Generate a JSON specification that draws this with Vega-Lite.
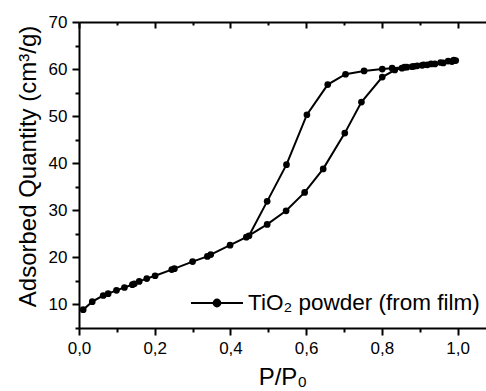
{
  "$schema": "https://vega.github.io/schema/vega-lite/v6.json",
  "autosize": {"type": "none"},
  "padding": {"left": 79, "top": 22, "right": 0, "bottom": 63},
  "width": 407,
  "height": 306,
  "background": "white",
  "view": {"stroke": null},
  "config": {
    "font": "Liberation Sans",
    "axis": {
      "domainColor": "black", "domainWidth": 2, "tickColor": "black", "tickWidth": 2,
      "labelFont": "Liberation Sans", "labelFontSize": 17, "labelColor": "black",
      "titleFont": "Liberation Sans", "titleFontSize": 24, "titleFontWeight": "normal", "titleColor": "black",
      "grid": false, "labelOverlap": false, "labelBound": false, "labelFlush": false
    },
    "legend": {"labelFont": "Liberation Sans", "labelFontSize": 22.5, "labelColor": "black", "labelLimit": 0}
  },
  "data": {"values": [
    {"i": 1, "p": 0.011, "q": 8.9},
    {"i": 2, "p": 0.035, "q": 10.6},
    {"i": 3, "p": 0.064, "q": 11.9},
    {"i": 4, "p": 0.077, "q": 12.3},
    {"i": 5, "p": 0.099, "q": 13.0},
    {"i": 6, "p": 0.120, "q": 13.6},
    {"i": 7, "p": 0.141, "q": 14.2},
    {"i": 8, "p": 0.146, "q": 14.4},
    {"i": 9, "p": 0.159, "q": 14.9},
    {"i": 10, "p": 0.179, "q": 15.5},
    {"i": 11, "p": 0.201, "q": 16.1},
    {"i": 12, "p": 0.245, "q": 17.4},
    {"i": 13, "p": 0.252, "q": 17.6},
    {"i": 14, "p": 0.300, "q": 19.1},
    {"i": 15, "p": 0.339, "q": 20.2},
    {"i": 16, "p": 0.348, "q": 20.6},
    {"i": 17, "p": 0.399, "q": 22.6},
    {"i": 18, "p": 0.442, "q": 24.3},
    {"i": 19, "p": 0.497, "q": 27.0},
    {"i": 20, "p": 0.547, "q": 29.9},
    {"i": 21, "p": 0.596, "q": 33.8},
    {"i": 22, "p": 0.645, "q": 38.8},
    {"i": 23, "p": 0.702, "q": 46.4},
    {"i": 24, "p": 0.746, "q": 53.0},
    {"i": 25, "p": 0.801, "q": 58.3},
    {"i": 26, "p": 0.834, "q": 59.8},
    {"i": 27, "p": 0.853, "q": 60.2},
    {"i": 28, "p": 0.866, "q": 60.4},
    {"i": 29, "p": 0.880, "q": 60.5},
    {"i": 30, "p": 0.893, "q": 60.7},
    {"i": 31, "p": 0.906, "q": 60.8},
    {"i": 32, "p": 0.920, "q": 60.9},
    {"i": 33, "p": 0.940, "q": 61.1},
    {"i": 34, "p": 0.962, "q": 61.3},
    {"i": 35, "p": 0.985, "q": 61.6},
    {"i": 36, "p": 0.995, "q": 61.8},
    {"i": 37, "p": 0.990, "q": 61.9},
    {"i": 38, "p": 0.975, "q": 61.7},
    {"i": 39, "p": 0.955, "q": 61.4},
    {"i": 40, "p": 0.930, "q": 61.1},
    {"i": 41, "p": 0.910, "q": 60.9},
    {"i": 42, "p": 0.885, "q": 60.6},
    {"i": 43, "p": 0.860, "q": 60.4},
    {"i": 44, "p": 0.827, "q": 60.2},
    {"i": 45, "p": 0.801, "q": 60.0},
    {"i": 46, "p": 0.753, "q": 59.6},
    {"i": 47, "p": 0.704, "q": 58.9},
    {"i": 48, "p": 0.657, "q": 56.7},
    {"i": 49, "p": 0.602, "q": 50.3},
    {"i": 50, "p": 0.548, "q": 39.7},
    {"i": 51, "p": 0.497, "q": 31.9},
    {"i": 52, "p": 0.449, "q": 24.6}
  ]},
  "layer": [
    {
      "mark": {"type": "line", "strokeWidth": 2, "point": {"filled": true, "size": 45}},
      "encoding": {
        "x": {
          "field": "p", "type": "quantitative",
          "scale": {"domain": [0, 1.075], "nice": false, "zero": false},
          "axis": {
            "orient": "bottom",
            "values": [0, 0.1, 0.2, 0.3, 0.4, 0.5, 0.6, 0.7, 0.8, 0.9, 1.0],
            "tickSize": {"condition": {"test": "round(datum.value*10)%2==0", "value": 7}, "value": 4},
            "labelExpr": "round(datum.value*10)%2==0 ? replace(format(datum.value,'.1f'),'.',',') : ''",
            "labelPadding": 5,
            "title": "P/P₀",
            "titleY": 56,
            "titleBaseline": "alphabetic"
          }
        },
        "y": {
          "field": "q", "type": "quantitative",
          "scale": {"domain": [5, 70], "nice": false, "zero": false},
          "axis": {
            "values": [5, 10, 15, 20, 25, 30, 35, 40, 45, 50, 55, 60, 65, 70],
            "tickSize": {"condition": {"test": "datum.value%10==0", "value": 7}, "value": 4},
            "labelExpr": "datum.value%10==0 ? datum.value : ''",
            "labelPadding": 5,
            "title": "Adsorbed Quantity (cm³/g)",
            "titleX": -44,
            "titleY": 144,
            "titleBaseline": "alphabetic"
          }
        },
        "order": {"field": "i", "type": "quantitative"},
        "color": {
          "datum": "TiO₂ powder (from film)",
          "type": "nominal",
          "scale": {"range": ["black"]},
          "legend": {
            "title": null,
            "orient": "none",
            "legendX": 111,
            "legendY": 254,
            "padding": 0,
            "labelOffset": 4,
            "labelLimit": 0,
            "symbolType": "M-1,0H1M-0.13,0A0.13,0.13,0,1,1,0.13,0A0.13,0.13,0,1,1,-0.13,0",
            "symbolSize": 2704,
            "symbolStrokeWidth": 2,
            "symbolStrokeColor": "black",
            "symbolFillColor": "black"
          }
        }
      }
    },
    {
      "mark": {"type": "point", "opacity": 0},
      "encoding": {
        "x": {
          "field": "p", "type": "quantitative",
          "axis": {
            "orient": "top",
            "values": [0, 0.1, 0.2, 0.3, 0.4, 0.5, 0.6, 0.7, 0.8, 0.9, 1.0],
            "tickSize": {"condition": {"test": "round(datum.value*10)%2==0", "value": -6}, "value": -3},
            "labels": false,
            "title": null
          }
        }
      }
    }
  ],
  "resolve": {"axis": {"x": "independent"}}
}
